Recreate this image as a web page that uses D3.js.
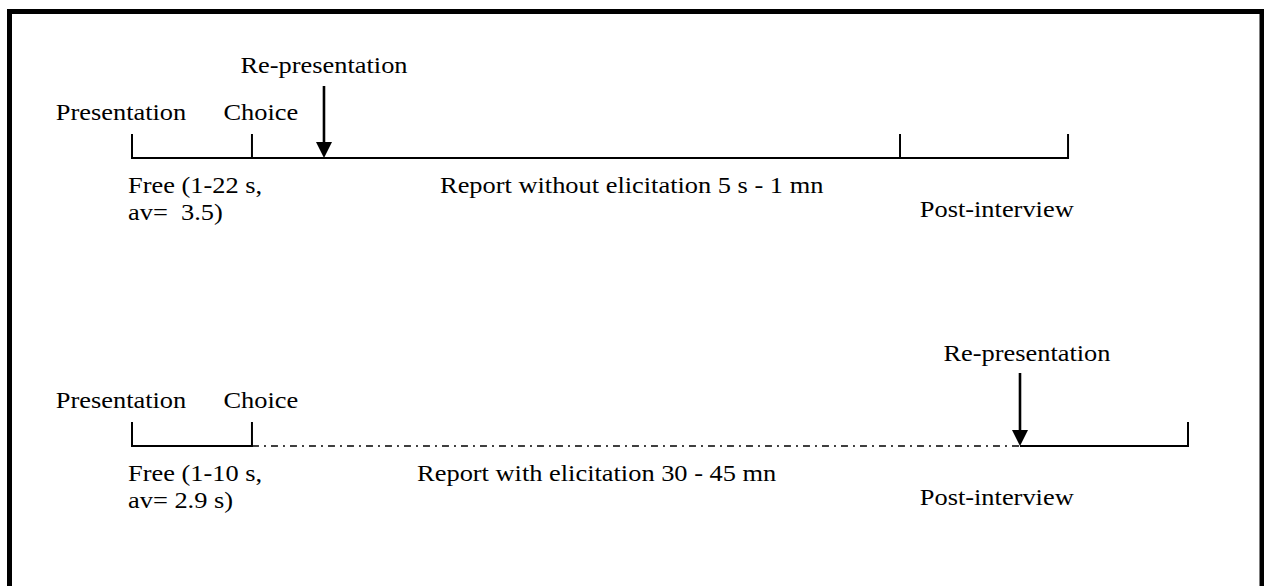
<!DOCTYPE html>
<html>
<head>
<meta charset="utf-8">
<script src="https://cdn.jsdelivr.net/npm/d3@7/dist/d3.min.js"></script>
<style>
  html, body { margin: 0; padding: 0; background: #fff; }
  svg { display: block; }
  text { font-family: "Times New Roman", Times, "Liberation Serif", serif; font-size: 24px; fill: #000; white-space: pre; }
</style>
</head>
<body>
<svg id="chart" width="1264" height="586"></svg>
<script>
// ---- Data (positions on a 0-100 timeline scale) ----
const rows = ["without", "with"];
// tick marks on each timeline
const ticks1 = [0, 11.36, 72.73, 88.64];
const ticks2 = [0, 11.36, 100];
// segments: [start, end, style]
const segments1 = [[0, 88.64, "solid"]];
const segments2 = [[0, 11.36, "solid"], [11.36, 84.09, "dashdot"], [84.09, 100, "solid"]];
// re-presentation arrows
const arrows = [18.18, 84.09];
const arrowLabelCenters = [18.18, 84.75];
const arrowLabel = "Re-presentation";
// labels above the timeline: [text, position(center)]
const topLabels = [["Presentation", -1.04], ["Choice", 12.2]];
// labels below: [lines, start position, row (0 = first line level, 1 = lower)]
const below1 = [
  [["Free (1-22 s,", "av=  3.5)"], -0.38, 0],
  [["Report without elicitation 5 s - 1 mn"], 29.17, 0],
  [["Post-interview"], 74.6, 1]
];
const below2 = [
  [["Free (1-10 s,", "av= 2.9 s)"], -0.38, 0],
  [["Report with elicitation 30 - 45 mn"], 27.0, 0],
  [["Post-interview"], 74.6, 1]
];

const svg = d3.select("#chart");
const W = 1264, H = 586;
const x = d3.scaleLinear().domain([0, 100]).range([132, 1188]);
const sx = 1.1; // horizontal text stretch

// frame
svg.append("path")
  .attr("d", `M9.5,${H + 5} V11.5 H1262 V${H + 5}`)
  .attr("fill", "none").attr("stroke", "#000").attr("stroke-width", 5);

function label(g, str, px, py, anchor) {
  g.append("text")
    .attr("transform", `translate(${px},${py}) scale(${sx},1)`)
    .attr("text-anchor", anchor || "start")
    .attr("xml:space", "preserve")
    .text(str);
}

function drawRow(baseY, ticks, segments, arrowPos, labelPos, arrowTopY, arrowLabelY, belowLabels, belowY) {
  const g = svg.append("g");
  segments.forEach(([a, b, style]) => {
    const l = g.append("line")
      .attr("x1", x(a)).attr("x2", x(b)).attr("y1", baseY).attr("y2", baseY)
      .attr("stroke", "#000").attr("stroke-width", style === "dashdot" ? 1.6 : 2);
    if (style === "dashdot") l.attr("stroke-dasharray", "7,5,2,5");
  });
  ticks.forEach(t => {
    g.append("line").attr("x1", x(t)).attr("x2", x(t))
      .attr("y1", baseY - 24).attr("y2", baseY + 1)
      .attr("stroke", "#000").attr("stroke-width", 2);
  });
  // arrow
  const ax = x(arrowPos);
  g.append("line").attr("x1", ax).attr("x2", ax)
    .attr("y1", arrowTopY).attr("y2", baseY - 14)
    .attr("stroke", "#000").attr("stroke-width", 2.6);
  g.append("path")
    .attr("d", `M${ax - 8},${baseY - 16} L${ax + 8},${baseY - 16} L${ax},${baseY} Z`)
    .attr("fill", "#000");
  label(g, arrowLabel, x(labelPos), arrowLabelY, "middle");
  topLabels.forEach(([s, p]) => label(g, s, x(p), baseY - 38, "middle"));
  belowLabels.forEach(([lines, p, r]) => {
    lines.forEach((s, i) => label(g, s, x(p), belowY + r * 24 + i * 27));
  });
}

drawRow(158, ticks1, segments1, arrows[0], arrowLabelCenters[0], 86, 73, below1, 193);
drawRow(446, ticks2, segments2, arrows[1], arrowLabelCenters[1], 373, 361, below2, 481);
</script>
</body>
</html>
